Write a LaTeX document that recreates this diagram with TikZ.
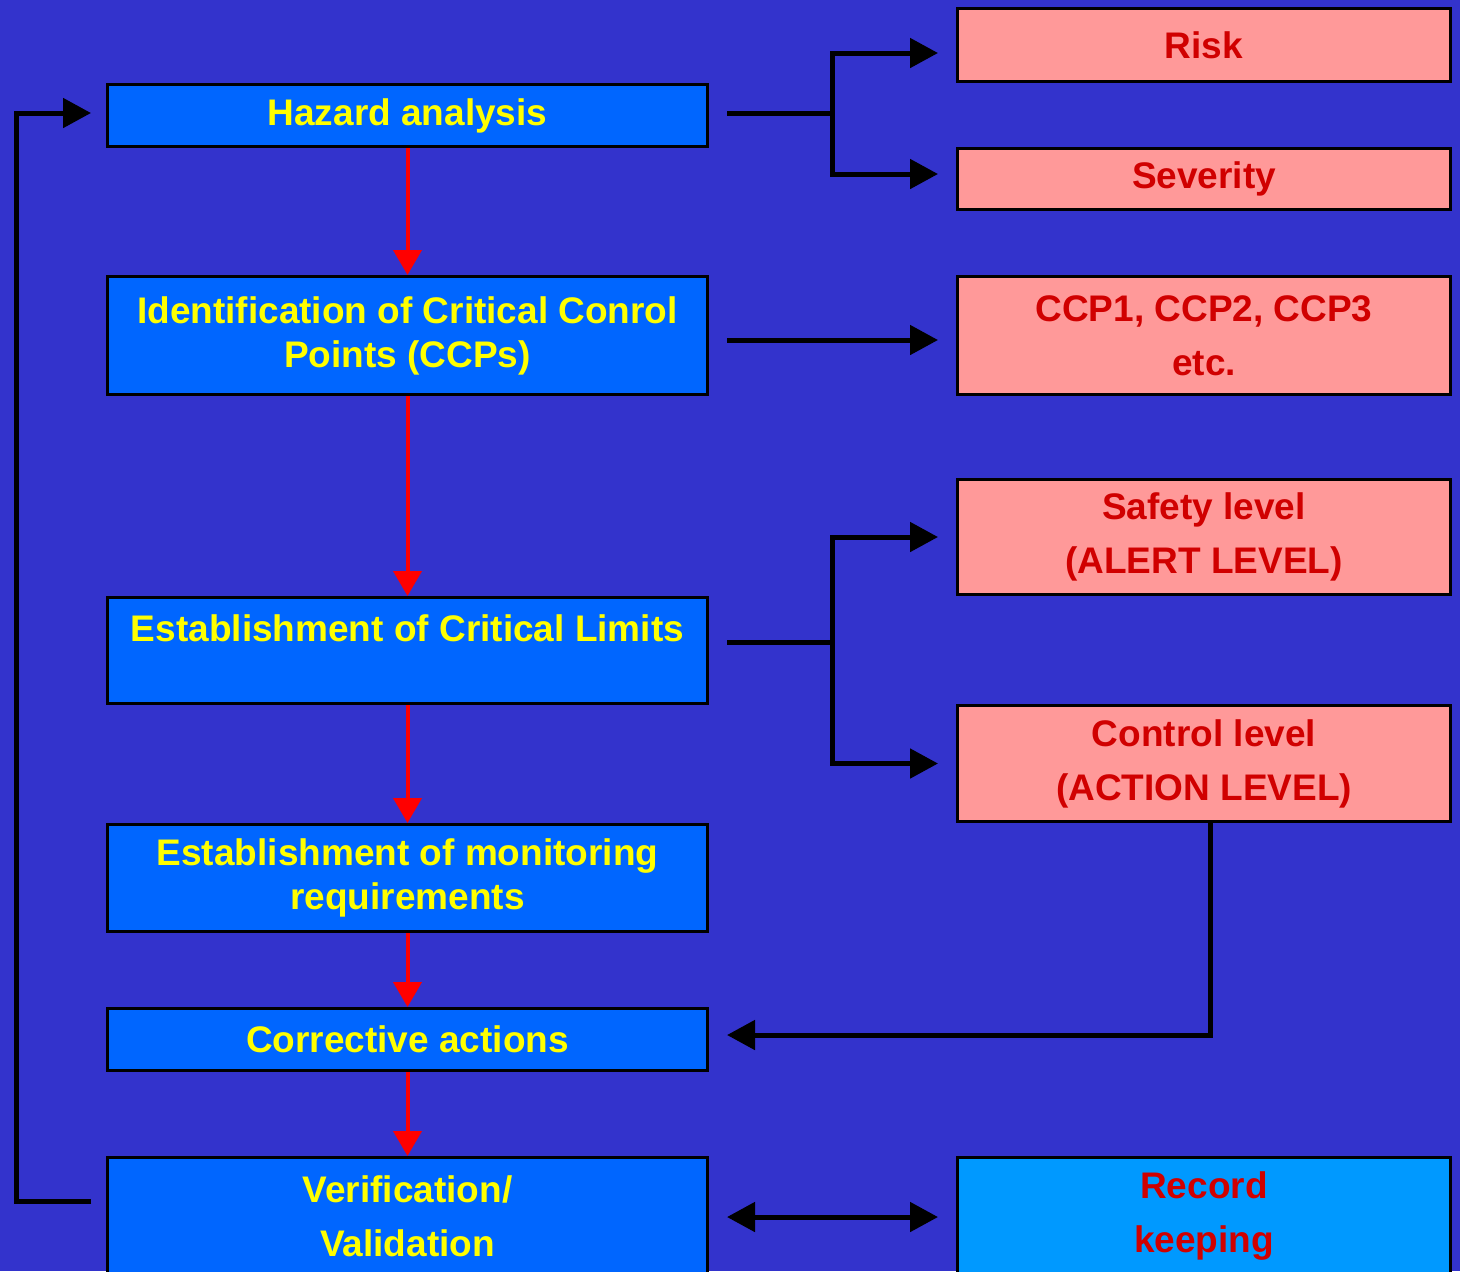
\documentclass[tikz,border=0pt]{standalone}
\usepackage{fontspec}
\setmainfont{Liberation Sans}
\usepackage{tikz}
\usetikzlibrary{positioning, arrows.meta}
\definecolor{bgBlue}{HTML}{3333CC}
\definecolor{stBlue}{HTML}{0066FF}
\definecolor{resPink}{HTML}{FF9999}
\definecolor{recCyan}{HTML}{0099FF}
\definecolor{txtRed}{HTML}{D00000}
\definecolor{txtYel}{HTML}{FFFF00}
\tikzset{
  stepbox/.style={draw=black, line width=1.5pt, fill=stBlue, text=txtYel, minimum width=300pt,
    inner sep=0pt, align=center, font=\fontsize{18.5}{22}\selectfont\bfseries},
  resbox/.style={draw=black, line width=1.5pt, fill=resPink, text=txtRed, minimum width=246.5pt,
    inner sep=0pt, align=center, font=\fontsize{18.5}{27}\selectfont\bfseries},
  flow/.style={draw=red, line width=2pt, -{Triangle[length=12.5pt, width=14pt]}},
  blk/.style={draw=black, line width=2.5pt},
  blkarr/.style={blk, -{Triangle[length=14pt, width=14.5pt]}},
  gap/.style={shorten <=9pt, shorten >=9pt}
}
\begin{document}
\begin{tikzpicture}[x=0.5pt, y=-0.5pt]
  \fill[bgBlue] (0,0) rectangle (1460,1271);
  \useasboundingbox (0,0) rectangle (1460,1271);
  % steps on the left
  \node[stepbox, minimum height=31pt] (haz) at (407.5,115.5) {Hazard analysis};
  \node[stepbox, minimum height=59pt] (ccps) at (407.5,335.5) {Identification of Critical Conrol\\Points (CCPs)};
  \node[stepbox, minimum height=53pt] (lim) at (407.5,650.5) {Establishment of Critical Limits\\~};
  \node[stepbox, minimum height=53.5pt] (mon) at (407.5,878) {Establishment of monitoring\\requirements};
  \node[stepbox, minimum height=31pt] (corr) at (407.5,1039.5) {Corrective actions};
  \node[stepbox, minimum height=58.5pt] (ver) at (407.5,1216) {Verification/\\[5pt]Validation};
  % results on the right
  \node[resbox, minimum height=36.5pt] (risk) at (1204,45) {Risk};
  \node[resbox, minimum height=30.5pt] (sev) at (1204,179) {Severity};
  \node[resbox, minimum height=59pt] (ccpl) at (1204,335.5) {CCP1, CCP2, CCP3\\etc.};
  \node[resbox, minimum height=57.5pt] (safe) at (1204,537) {Safety level\\(ALERT LEVEL)};
  \node[resbox, minimum height=58pt] (ctrl) at (1204,763.5) {Control level\\(ACTION LEVEL)};
  \node[resbox, minimum height=58.5pt, fill=recCyan] (rec) at (1204,1216) {Record\\keeping};
  % main flow
  \draw[flow] (haz) -- (ccps);
  \draw[flow] (ccps) -- (lim);
  \draw[flow] (lim) -- (mon);
  \draw[flow] (mon) -- (corr);
  \draw[flow] (corr) -- (ver);
  % branches
  \coordinate (hj) at (832,113);
  \coordinate (lj) at (832,642);
  \draw[blk, shorten <=9pt] ([yshift=1.25pt]haz.east) -- (hj);
  \draw[blkarr, shorten >=9pt] (hj) |- ([yshift=-4pt]risk.west);
  \draw[blkarr, shorten >=9pt] (hj) |- ([yshift=2.5pt]sev.west);
  \draw[blkarr, gap] ([yshift=-2.25pt]ccps.east) -- ([yshift=-2.25pt]ccpl.west);
  \draw[blk, shorten <=9pt] ([yshift=4.25pt]lim.east) -- (lj);
  \draw[blkarr, shorten >=9pt] (lj) |- (safe.west);
  \draw[blkarr, shorten >=9pt] (lj) |- (ctrl.west);
  \draw[blkarr, shorten >=9pt] ([xshift=3pt]ctrl.south) |- ([yshift=2.25pt]corr.east);
  \draw[blk, {Triangle[length=14pt, width=14.5pt]}-{Triangle[length=14pt, width=14.5pt]}, gap]
    ([yshift=-0.5pt]ver.east) -- ([yshift=-0.5pt]rec.west);
  % feedback loop
  \coordinate (fbBot) at (16,1201);
  \coordinate (fbTop) at (16,113);
  \draw[blkarr, shorten <=7.5pt, shorten >=7.5pt] ([yshift=7.5pt]ver.west) -- (fbBot) -- (fbTop) -- ([yshift=1.25pt]haz.west);
\end{tikzpicture}
\end{document}
